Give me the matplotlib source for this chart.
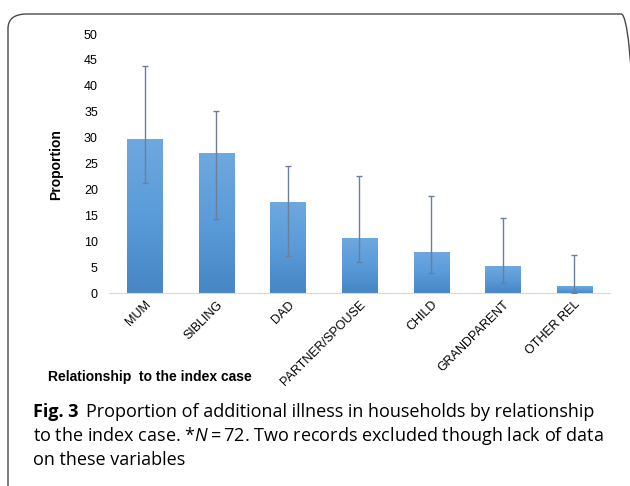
import matplotlib
matplotlib.use("Agg")
import matplotlib.pyplot as plt
from matplotlib.patches import FancyBboxPatch
from matplotlib.colors import LinearSegmentedColormap
import numpy as np

CATEGORIES = ["MUM", "SIBLING", "DAD", "PARTNER/SPOUSE", "CHILD", "GRANDPARENT", "OTHER REL"]
PROPORTION = [29.7, 27.0, 17.6, 10.7, 7.9, 5.2, 1.3]
CI_LOW = [21.2, 14.3, 7.1, 5.9, 3.9, 1.9, 0.0]
CI_HIGH = [43.9, 35.1, 24.6, 22.6, 18.7, 14.5, 7.4]
Y_TICKS = [0, 5, 10, 15, 20, 25, 30, 35, 40, 45, 50]

plt.rcParams["mathtext.fontset"] = "custom"
plt.rcParams["mathtext.it"] = "Open Sans:italic"
plt.rcParams["mathtext.rm"] = "Open Sans"

W, H = 630, 486
fig = plt.figure(figsize=(W / 100, H / 100), dpi=100)

# rounded frame around the panel (runs off the right and bottom edges)
frame = FancyBboxPatch((8 / W, -0.2), 1 + 2 / W, 1 - 14 / H + 0.2,
                       boxstyle="round,pad=0,rounding_size=0.03",
                       transform=fig.transFigure, fill=False,
                       edgecolor="#4a4a4a", linewidth=1.0)
fig.patches.append(frame)

ax = fig.add_axes([109 / W, 1 - 293 / H, (610 - 109) / W, (293 - 34) / H])
x = np.arange(len(CATEGORIES))
vals = np.array(PROPORTION)
err = [vals - np.array(CI_LOW), np.array(CI_HIGH) - vals]

bars = ax.bar(x, vals, width=0.49, color="#5597d6", edgecolor="#9cc4ea",
              linewidth=0.6, zorder=2)

# vertical gradient fill inside each bar
grad = LinearSegmentedColormap.from_list("bar", ["#4886c6", "#5a9bd9", "#6ea8de"])
for b in bars:
    x0, y0 = b.get_x(), b.get_y()
    im = ax.imshow(np.linspace(0, 1, 64).reshape(-1, 1), cmap=grad, origin="lower",
                   extent=[x0, x0 + b.get_width(), y0, y0 + b.get_height()],
                   aspect="auto", zorder=2.1)
    im.set_clip_path(b)

ax.errorbar(x, vals, yerr=err, fmt="none", ecolor="#6b7f9a", elinewidth=1.0,
            capsize=2.5, capthick=1.0, zorder=3)

ax.set_xlim(-0.5, len(CATEGORIES) - 0.5)
ax.set_ylim(0, 50)
ax.set_yticks(Y_TICKS)
ax.set_yticklabels([str(t) for t in Y_TICKS], fontsize=9, family="Liberation Sans")
ax.set_xticks(x)
ax.set_xticklabels(CATEGORIES, rotation=45, ha="right", rotation_mode="anchor",
                   fontsize=9, family="Liberation Sans")
ax.tick_params(length=0)
ax.tick_params(axis="y", pad=8)
ax.tick_params(axis="x", pad=4)
for side in ["top", "right", "left"]:
    ax.spines[side].set_visible(False)
ax.spines["bottom"].set_color("#d9d9d9")
ax.patch.set_alpha(0)

fig.text(56 / W, 1 - 165 / H, "Proportion", rotation=90, ha="center", va="center",
         fontsize=10, fontweight="bold", family="Liberation Sans")
fig.text(48 / W, 1 - 377 / H, "Relationship  to the index case", ha="left", va="center",
         fontsize=10, fontweight="bold", family="Liberation Sans")

# caption
cap_x = 33 / W
cap_size = 13
t = fig.text(cap_x, 1 - 412 / H, "Fig. 3", ha="left", va="center", fontsize=cap_size,
             family="Open Sans", fontweight="bold")
fig.canvas.draw()
bb = t.get_window_extent()
fig.text(bb.x1 / W + 7 / W, 1 - 412 / H,
         "Proportion of additional illness in households by relationship",
         ha="left", va="center", fontsize=cap_size, family="Open Sans")
fig.text(cap_x, 1 - 436 / H,
         "to the index case. *$N$\u2009=\u200972. Two records excluded though lack of data",
         ha="left", va="center", fontsize=cap_size, family="Open Sans")
fig.text(cap_x, 1 - 460 / H, "on these variables", ha="left", va="center",
         fontsize=cap_size, family="Open Sans")

fig.savefig("out.png", dpi=100)
